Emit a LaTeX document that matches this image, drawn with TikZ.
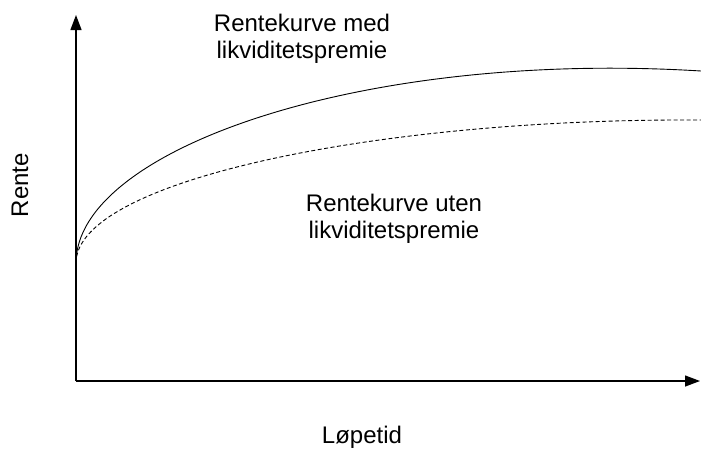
\documentclass[tikz,border=0pt]{standalone}
\usepackage{fontspec}
\setmainfont{Liberation Sans}
\usepackage{tikz}
\usetikzlibrary{positioning,calc,arrows.meta}
\tikzstyle{axis}=[-{Triangle[length=15pt,width=11pt]},line width=1.3pt]
\tikzstyle{curve}=[line width=0.9pt]
\tikzstyle{label}=[font=\fontsize{24}{27}\selectfont,align=center,inner sep=0pt]

\begin{document}
\begin{tikzpicture}[x=1pt,y=-1pt]
\useasboundingbox (0,0) rectangle (701,448);
\coordinate (O) at (76,381);
\coordinate (ytop) at (76,15);
\coordinate (xend) at (700,381);
\coordinate (start) at (76,263);
\coordinate (endmed) at (701,71);
\coordinate (enduten) at (701,120);
\draw[axis] (O) -- (ytop);
\draw[axis] (O) -- (xend);

% med likviditetspremie
\draw[curve] (start) .. controls (76,150) and (360,50) .. (endmed);
% uten likviditetspremie
\draw[curve,dash pattern=on 4pt off 2.5pt] (start) .. controls (76,180) and (380,118) .. (enduten);

\node (med) [label,anchor=north] at (302,14) {Rentekurve med\\likviditetspremie};
\node (uten) [label,anchor=north] at (394,194) {Rentekurve uten\\likviditetspremie};
\node (rente) [label,rotate=90,anchor=base] at (28,185) {Rente};
\node (lopetid) [label,anchor=base] at (362,443) {Løpetid};
\end{tikzpicture}
\end{document}
